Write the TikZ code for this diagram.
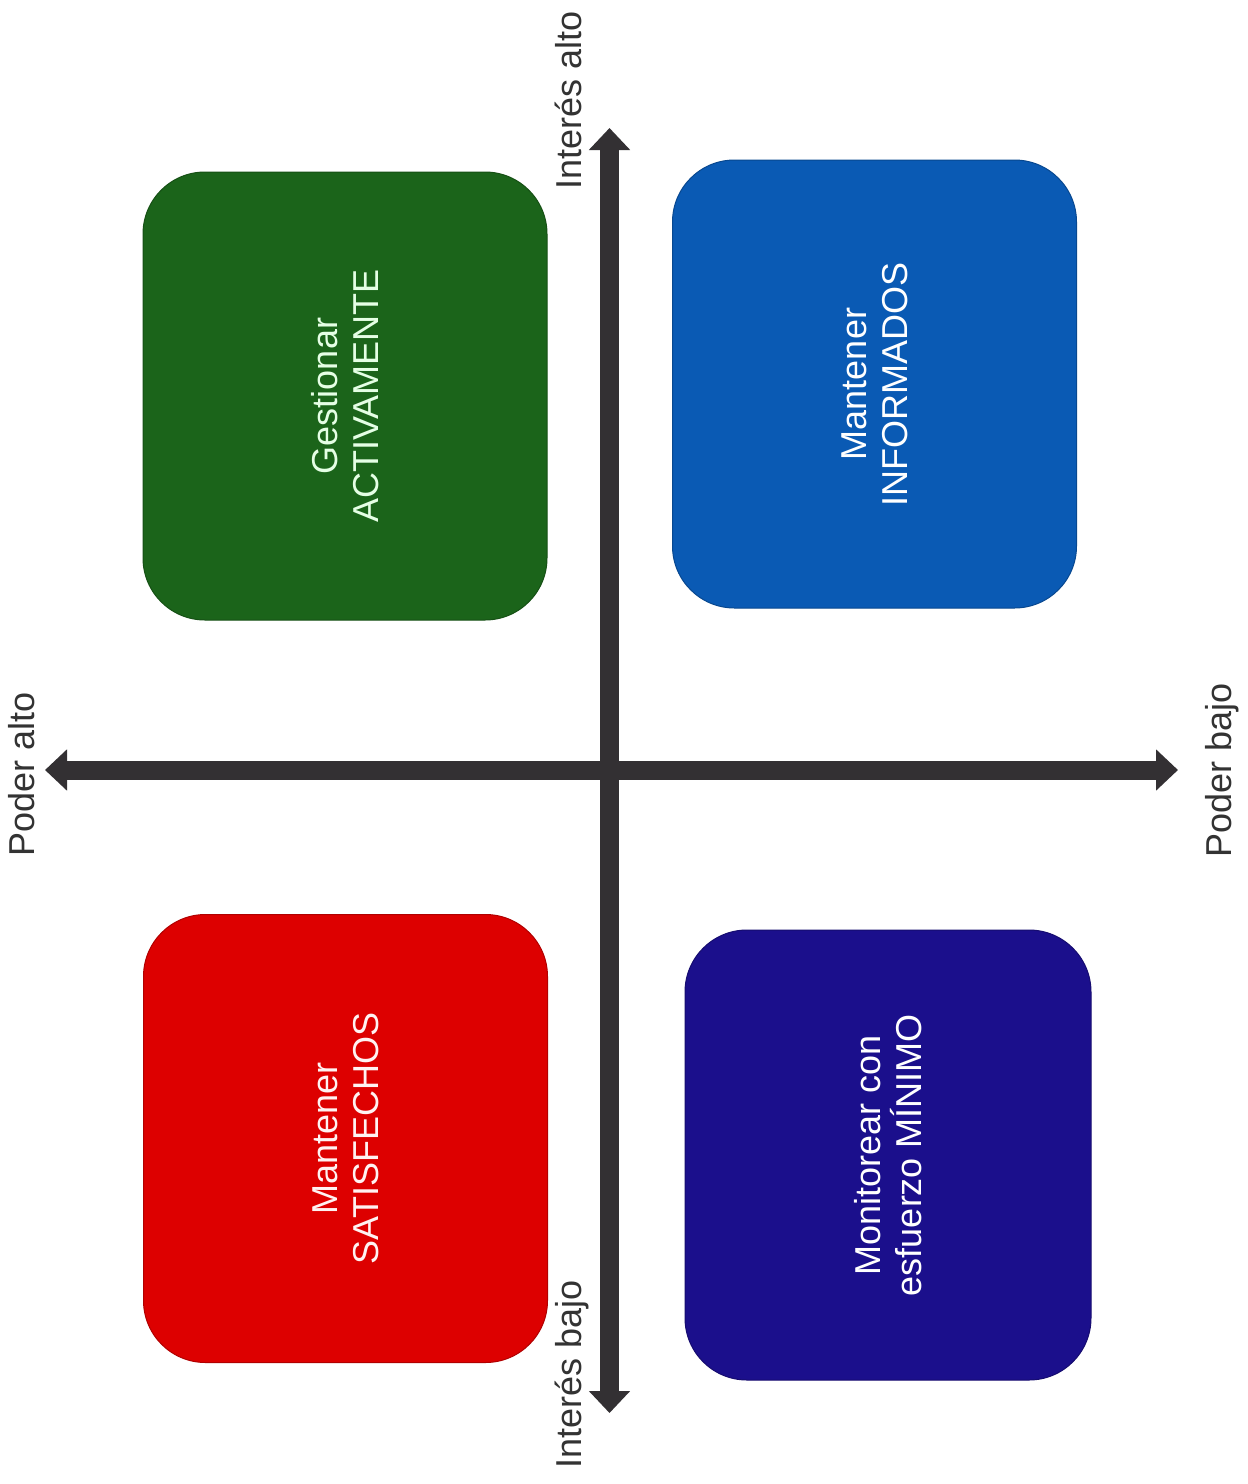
\documentclass[tikz,border=0pt]{standalone}
\usepackage{fontspec}
\setmainfont{Liberation Sans}
\usetikzlibrary{arrows.meta}
\definecolor{cgreen}{HTML}{1B641A}
\definecolor{cblue}{HTML}{0A5AB4}
\definecolor{cred}{HTML}{DD0000}
\definecolor{cnavy}{HTML}{1B0F8C}
\definecolor{caxis}{HTML}{333033}
\definecolor{clabel}{HTML}{333333}
\begin{document}
\begin{tikzpicture}[x=1pt,y=-1pt,
  quad/.style={rounded corners=62pt, rotate=90, align=center, inner sep=0pt,
    minimum width=448pt, minimum height=404pt,
    font=\fontsize{36}{41}\selectfont, text=white, line width=1pt},
  axislabel/.style={rotate=90, inner sep=0pt, text=clabel,
    font=\fontsize{36}{41}\selectfont},
  axisline/.style={draw=caxis, line width=19pt,
    {Triangle[length=22pt,width=40pt]}-{Triangle[length=22pt,width=40pt]}}]
\useasboundingbox (0,0) rectangle (1248,1484);
\fill[white] (0,0) rectangle (1248,1484);
% quadrant boxes
\node[quad, fill=cgreen, draw=cgreen!80!black, text=green!10!white] (ga) at (345,396) {Gestionar\\ACTIVAMENTE};
\node[quad, fill=cblue, draw=cblue!80!black] (mi) at (874.5,384) {Mantener\\INFORMADOS};
\node[quad, fill=cred, draw=cred!80!black, text=red!5!white] (ms) at (345.5,1138.5) {Mantener\\SATISFECHOS};
\node[quad, fill=cnavy, draw=cnavy!80!black, minimum width=450pt, minimum height=406pt] (mm) at (888,1155) {Monitorear con\\esfuerzo MÍNIMO};
% axes
\coordinate (top) at (609.5,128);
\coordinate (bot) at (609.5,1413);
\coordinate (lft) at (45,770);
\coordinate (rgt) at (1178,770);
\draw[axisline] (lft) -- (rgt);
\draw[axisline] (bot) -- (top);
% axis labels
\node[axislabel] (ia) at (568,100) {Interés alto};
\node[axislabel] (ib) at (572,1374) {Interés bajo};
\node[axislabel] (pa) at (22,774) {Poder alto};
\node[axislabel] (pb) at (1222,770) {Poder bajo};
\end{tikzpicture}
\end{document}
